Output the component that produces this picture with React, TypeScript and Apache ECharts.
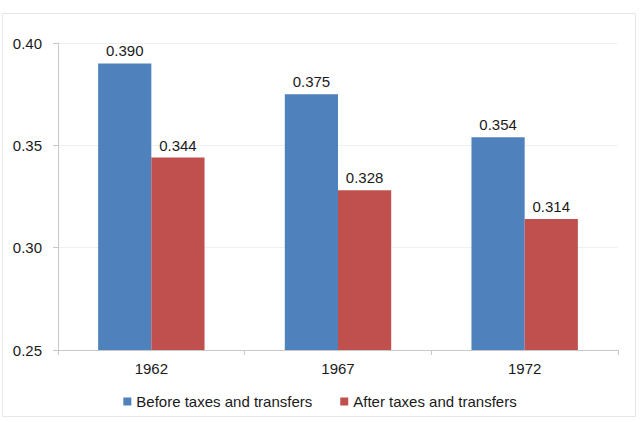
import React, { useEffect, useRef } from "react";
import * as echarts from "echarts";

const years = ["1962", "1967", "1972"];
const beforeTaxes = [0.39, 0.375, 0.354];
const afterTaxes = [0.344, 0.328, 0.314];
const seriesNames = ["Before taxes and transfers", "After taxes and transfers"];

const FONT = "'Liberation Sans', Arial, sans-serif";
const TEXT = "#1a1a1a";

export default function App() {
  const ref = useRef<HTMLDivElement>(null);

  useEffect(() => {
    if (!ref.current) return;
    const chart = echarts.init(ref.current, undefined, { renderer: "svg" });
    const label = {
      show: true,
      position: "top" as const,
      distance: 5,
      color: TEXT,
      fontSize: 15,
      fontFamily: FONT,
      formatter: (p: any) => Number(p.value).toFixed(3),
    };
    chart.setOption({
      animation: false,
      backgroundColor: "#fff",
      textStyle: { fontFamily: FONT },
      graphic: [
        {
          type: "rect",
          shape: { x: 2.5, y: 13.5, width: 633, height: 403 },
          style: { fill: "none", stroke: "#e6e6e6", lineWidth: 1 },
          silent: true,
        },
      ],
      grid: { left: 58, right: 22, top: 43, bottom: 72 },
      legend: {
        top: 389,
        left: "center",
        itemWidth: 8,
        itemHeight: 8,
        itemGap: 28,
        icon: "rect",
        textStyle: { fontSize: 15, color: TEXT, fontFamily: FONT },
        data: seriesNames,
      },
      xAxis: {
        type: "category",
        data: years,
        axisLine: { lineStyle: { color: "#c8c8c8" } },
        axisTick: { show: true, alignWithLabel: false, length: 5, lineStyle: { color: "#c8c8c8" } },
        axisLabel: { color: TEXT, fontSize: 15, margin: 11, fontFamily: FONT },
      },
      yAxis: {
        type: "value",
        min: 0.25,
        max: 0.4,
        interval: 0.05,
        axisLine: { show: true, lineStyle: { color: "#c8c8c8" } },
        axisTick: { show: true, length: 5, lineStyle: { color: "#c8c8c8" } },
        axisLabel: {
          color: TEXT,
          fontSize: 15,
          margin: 16,
          fontFamily: FONT,
          formatter: (v: number) => v.toFixed(2),
        },
        splitLine: { lineStyle: { color: "#f0f0f0" } },
      },
      series: [
        {
          name: seriesNames[0],
          type: "bar",
          data: beforeTaxes,
          barGap: "0%",
          barCategoryGap: "43%",
          itemStyle: { color: "#4F81BD" },
          label,
        },
        {
          name: seriesNames[1],
          type: "bar",
          data: afterTaxes,
          itemStyle: { color: "#C0504D" },
          label,
        },
      ],
    });
    return () => chart.dispose();
  }, []);

  return <div ref={ref} style={{ width: 640, height: 422, position: "absolute", left: 0, top: 0 }} />;
}
